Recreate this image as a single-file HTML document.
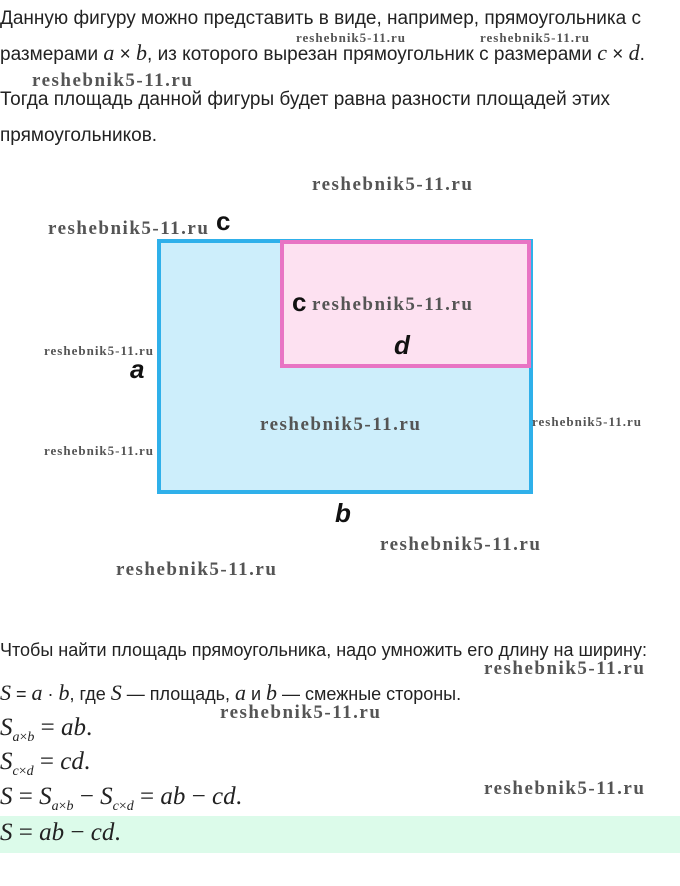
<!DOCTYPE html>
<html><head><meta charset="utf-8"><style>
body{margin:0;width:680px;height:886px;background:#fff;position:relative;overflow:hidden;font-family:"Liberation Sans","DejaVu Sans",sans-serif;color:#222}
.t{position:absolute;left:0;font-size:19px;white-space:nowrap;line-height:22px}
.m{font-family:"Liberation Serif",serif;font-style:italic;font-size:22px}
.M{font-family:"Liberation Serif",serif;font-size:25px}
.w{position:absolute;font-family:"Liberation Serif",serif;font-weight:bold;color:#555;white-space:nowrap}
.b{font-size:19px;letter-spacing:1.5px}
.s{font-size:13px;letter-spacing:1px}
.l{position:absolute;font-family:"Liberation Sans",sans-serif;font-weight:bold;font-style:italic;font-size:26px;color:#111}
sub{font-size:14px}
</style></head><body>
<div class="t" style="top:8px">Данную фигуру можно представить в виде, например, прямоугольника с</div>
<div class="t" style="top:42px">размерами <span class="m">a</span> × <span class="m">b</span>, из которого вырезан прямоугольник с размерами <span class="m">c</span> × <span class="m">d</span>.</div>
<div class="t" style="top:89px">Тогда площадь данной фигуры будет равна разности площадей этих</div>
<div class="t" style="top:125px">прямоугольников.</div>

<div class="w s" style="left:296px;top:30px">reshebnik5-11.ru</div>
<div class="w s" style="left:480px;top:30px">reshebnik5-11.ru</div>
<div class="w b" style="left:32px;top:70px">reshebnik5-11.ru</div>

<svg style="position:absolute;left:0;top:0" width="680" height="886">
<rect x="159" y="241" width="372" height="251" fill="#cdeefb" stroke="#2fb0ea" stroke-width="4"/>
<rect x="282" y="242" width="247" height="124" fill="#fde1f1" stroke="#e874c4" stroke-width="4"/>
</svg>
<div class="l" style="left:216px;top:206px;font-style:normal">c</div>
<div class="l" style="left:292px;top:287px;font-style:normal">c</div>
<div class="l" style="left:394px;top:330px">d</div>
<div class="l" style="left:130px;top:354px">a</div>
<div class="l" style="left:335px;top:498px">b</div>

<div class="w b" style="left:312px;top:174px">reshebnik5-11.ru</div>
<div class="w b" style="left:48px;top:218px">reshebnik5-11.ru</div>
<div class="w b" style="left:312px;top:294px">reshebnik5-11.ru</div>
<div class="w s" style="left:44px;top:343px">reshebnik5-11.ru</div>
<div class="w s" style="left:44px;top:443px">reshebnik5-11.ru</div>
<div class="w b" style="left:260px;top:414px">reshebnik5-11.ru</div>
<div class="w s" style="left:532px;top:414px">reshebnik5-11.ru</div>
<div class="w b" style="left:380px;top:534px">reshebnik5-11.ru</div>
<div class="w b" style="left:116px;top:559px">reshebnik5-11.ru</div>

<div class="t" style="top:639px;font-size:18px">Чтобы найти площадь прямоугольника, надо умножить его длину на ширину:</div>
<div class="w b" style="left:484px;top:658px">reshebnik5-11.ru</div>
<div class="t" style="top:682px;font-size:18px"><span class="m">S</span> = <span class="m">a</span> · <span class="m">b</span>, где <span class="m">S</span> — площадь, <span class="m">a</span> и <span class="m">b</span> — смежные стороны.</div>
<div class="w b" style="left:220px;top:702px">reshebnik5-11.ru</div>
<div class="t M" style="top:717px"><i>S</i><sub><i>a</i>×<i>b</i></sub> = <i>ab</i>.</div>
<div class="t M" style="top:751px"><i>S</i><sub><i>c</i>×<i>d</i></sub> = <i>cd</i>.</div>
<div class="t M" style="top:786px"><i>S</i> = <i>S</i><sub><i>a</i>×<i>b</i></sub> − <i>S</i><sub><i>c</i>×<i>d</i></sub> = <i>ab</i> − <i>cd</i>.</div>
<div class="w b" style="left:484px;top:778px">reshebnik5-11.ru</div>
<div style="position:absolute;left:0;top:816px;width:680px;height:37px;background:#dcfbea"></div>
<div class="t M" style="top:822px"><i>S</i> = <i>ab</i> − <i>cd</i>.</div>
</body></html>
